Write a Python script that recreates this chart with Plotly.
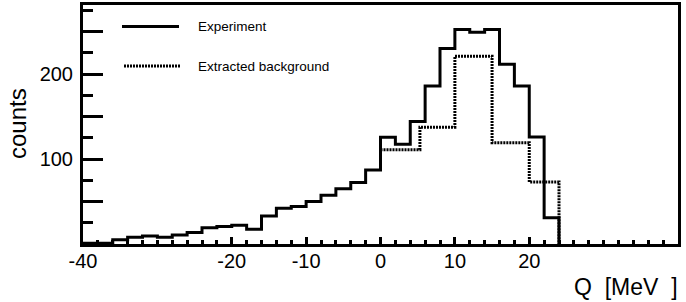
import plotly.graph_objects as go

# ---- data ----
# Experiment: 2 MeV bins from -40 to 24 MeV
exp_edges = list(range(-40, 25, 2))
exp_counts = [1, 1, 5, 8, 9.5, 8, 10.5, 13.5, 19, 20.5, 22, 17.5,
              33, 42, 44, 50, 57.5, 65, 72.5, 87,
              125.5, 117.5, 144, 186, 230, 252.5, 249, 252.5, 211.5, 186, 126, 31]
# Extracted background (Q >= 0 part; below 0 it lies under the experiment line)
bg_edges = [0, 5.3, 10, 15, 20, 24]
bg_counts = [111, 137.5, 221, 119, 73]

x_major = [-40, -30, -20, -10, 0, 10, 20, 30, 40]
x_major_text = ["-40", "", "-20", "-10", "0", "10", "20", "", "40"]
x_minor = list(range(-40, 41, 2))
y_major = [50, 100, 150, 200, 250]
y_major_text = ["", "100", "", "200", ""]
y_minor = [25, 75, 125, 175, 225, 275]

FONT = "Liberation Sans, Arial, sans-serif"
DOT = "2px,1px"


def step_path(edges, vals, start_zero=True, end_zero=True):
    xs, ys = [], []
    if start_zero:
        xs.append(edges[0]); ys.append(0)
    for i, v in enumerate(vals):
        xs += [edges[i], edges[i + 1]]
        ys += [v, v]
    if end_zero:
        xs.append(edges[-1]); ys.append(0)
    return xs, ys


bx, by = step_path(bg_edges, bg_counts, start_zero=False, end_zero=True)
ex, ey = step_path(exp_edges, exp_counts)

fig = go.Figure()
fig.add_trace(go.Scatter(x=bx, y=by, mode="lines",
                         line=dict(color="black", width=3, dash=DOT),
                         name="Extracted background", showlegend=False))
fig.add_trace(go.Scatter(x=ex, y=ey, mode="lines",
                         line=dict(color="black", width=3),
                         name="Experiment", showlegend=False))

L, R, T, B = 83, 678, 5, 244
W, H = 686, 302


def px(xp):
    return (xp - L) / (R - L)


def py(yp):
    return (B - yp) / (B - T)


# legend (drawn manually like the ROOT legend)
fig.add_shape(type="line", xref="paper", yref="paper",
              x0=px(122), x1=px(179), y0=py(26.5), y1=py(26.5),
              line=dict(color="black", width=3))
fig.add_shape(type="line", xref="paper", yref="paper",
              x0=px(124), x1=px(181), y0=py(66), y1=py(66),
              line=dict(color="black", width=3, dash=DOT))
fig.add_annotation(text="Experiment", xref="paper", yref="paper",
                   x=px(196), y=py(26.5), xanchor="left", yanchor="middle",
                   showarrow=False, font=dict(family=FONT, size=13.5, color="black"))
fig.add_annotation(text="Extracted background", xref="paper", yref="paper",
                   x=px(196), y=py(66), xanchor="left", yanchor="middle",
                   showarrow=False, font=dict(family=FONT, size=13.5, color="black"))

# axis titles
fig.add_annotation(text="Q\u00a0\u00a0[MeV\u00a0\u00a0]", xref="paper", yref="paper",
                   x=1, y=0, xanchor="right", yanchor="middle",
                   xshift=2, yshift=-(287 - B), showarrow=False,
                   font=dict(family=FONT, size=23, color="black"))
fig.add_annotation(text="counts", xref="paper", yref="paper",
                   x=0, y=py(124), xanchor="center", yanchor="middle",
                   xshift=-(L - 17), textangle=-90, showarrow=False,
                   font=dict(family=FONT, size=24, color="black"))

axis_common = dict(showgrid=False, zeroline=False, showline=True, mirror=True,
                   linecolor="black", linewidth=3, ticks="inside", automargin=False,
                   tickcolor="black", tickfont=dict(family=FONT, size=20, color="black"))

fig.update_xaxes(range=[-40, 40], tickmode="array", tickvals=x_major,
                 ticktext=x_major_text, ticklen=7, tickwidth=2.5, ticklabelstandoff=-3,
                 minor=dict(tickmode="array", tickvals=x_minor, ticks="inside",
                            ticklen=4, tickwidth=2.5, tickcolor="black", showgrid=False),
                 **axis_common)
fig.update_yaxes(range=[0, 281.2], tickmode="array", tickvals=y_major,
                 ticktext=y_major_text, ticklen=20, tickwidth=2.5, ticklabelstandoff=3,
                 minor=dict(tickmode="array", tickvals=y_minor, ticks="inside",
                            ticklen=10, tickwidth=2.5, tickcolor="black", showgrid=False),
                 **axis_common)

fig.update_layout(width=W, height=H,
                  margin=dict(l=L, r=W - R, t=T, b=H - B),
                  plot_bgcolor="white", paper_bgcolor="white",
                  showlegend=False, font=dict(family=FONT, color="black"))

fig.write_html("out.html", config={"displayModeBar": False},
               post_script="document.body.style.margin='0';document.body.style.overflow='hidden';")
